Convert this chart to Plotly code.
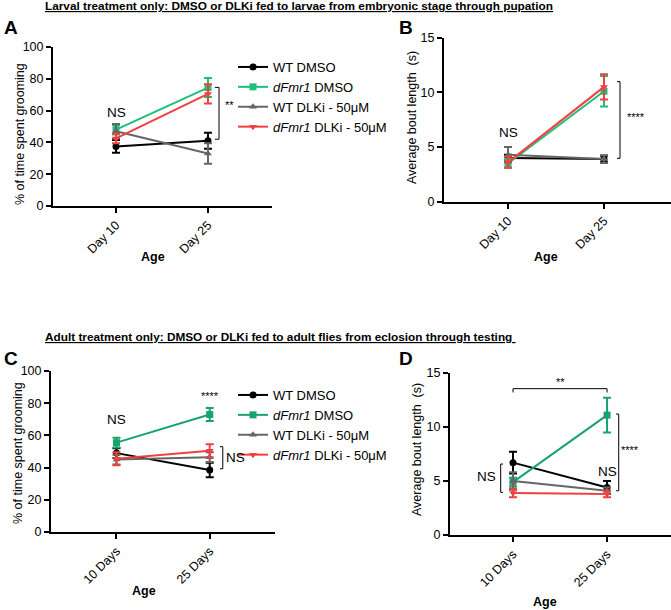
import plotly.graph_objects as go

# ---------------- data ----------------
series = ["WT DMSO", "<i>dFmr1</i> DMSO", "WT DLKi - 50μM", "<i>dFmr1</i> DLKi - 50μM"]
colors_top = ["#000000", "#1fbf7a", "#666666", "#f04040"]
colors_bot = ["#000000", "#16a46c", "#666666", "#f04040"]
symbols = ["circle", "square", "triangle-up", "triangle-down"]

ages_top = ["Day 10", "Day 25"]
ages_bot = ["10 Days", "25 Days"]

# Panel A: % time grooming (larval treatment)
A_mean = [[37.5, 41.0], [48.0, 74.5], [47.0, 33.0], [42.5, 70.5]]
A_err = [[4.0, 5.0], [3.0, 6.0], [4.5, 6.5], [3.0, 6.0]]
# Panel B: average bout length (larval treatment)
B_mean = [[4.0, 3.9], [3.5, 10.1], [4.3, 3.9], [3.6, 10.5]]
B_err = [[0.3, 0.3], [0.4, 1.4], [0.7, 0.35], [0.5, 1.15]]
# Panel C: % time grooming (adult treatment)
C_mean = [[49.0, 38.5], [55.5, 73.0], [45.0, 46.5], [45.5, 50.5]]
C_err = [[3.0, 4.5], [3.0, 4.0], [3.0, 3.0], [4.0, 4.0]]
# Panel D: average bout length (adult treatment)
D_mean = [[6.7, 4.4], [4.9, 11.1], [5.0, 4.1], [3.9, 3.8]]
D_err = [[1.0, 0.6], [0.4, 1.6], [0.8, 0.3], [0.4, 0.3]]

FONT = "Liberation Sans, Arial, sans-serif"
W, H = 671, 610

def px(x):
    return x / W

def py(y):
    return 1 - y / H

fig = go.Figure()

panels = [
    ("x", "y", A_mean, A_err, colors_top, "legend", True),
    ("x2", "y2", B_mean, B_err, colors_top, "legend", False),
    ("x3", "y3", C_mean, C_err, colors_bot, "legend2", True),
    ("x4", "y4", D_mean, D_err, colors_bot, "legend2", False),
]

for xa, ya, means, errs, cols, leg, showleg in panels:
    for i in range(4):
        fig.add_trace(go.Scatter(
            x=[0, 1], y=means[i], name=series[i],
            mode="lines+markers", xaxis=xa, yaxis=ya,
            line=dict(color=cols[i], width=2),
            marker=dict(color=cols[i], symbol=symbols[i], size=7),
            error_y=dict(type="data", array=errs[i], color=cols[i], thickness=2, width=4),
            showlegend=showleg, legend=leg,
        ))

axis_common = dict(showline=True, linecolor="black", linewidth=2, ticks="outside",
                   tickwidth=2, ticklen=5, tickcolor="black", showgrid=False, zeroline=False,
                   automargin=False,
                   tickfont=dict(family=FONT, size=12.5, color="black"))

def xaxis(dom, rng, labels, anchor):
    return dict(domain=dom, range=rng, tickvals=[0, 1], ticktext=labels, tickangle=-45,
                anchor=anchor, **axis_common)

def yaxis(dom, rng, dtick, anchor):
    return dict(domain=dom, range=rng, dtick=dtick, anchor=anchor, **axis_common)

fig.update_layout(
    width=W, height=H, margin=dict(l=0, r=0, t=0, b=0, autoexpand=False),
    paper_bgcolor="white", plot_bgcolor="white",
    font=dict(family=FONT, size=12, color="black"),
    xaxis=xaxis([px(53), px(272)], [-0.685, 1.696], ages_top, "y"),
    yaxis=yaxis([py(206), py(47)], [0, 100], 20, "x"),
    xaxis2=xaxis([px(444), 1.0], [-0.667, 1.698], ages_top, "y2"),
    yaxis2=yaxis([py(201.7), py(37.7)], [0, 15], 5, "x2"),
    xaxis3=xaxis([px(51), px(275)], [-0.702, 1.70], ages_bot, "y3"),
    yaxis3=yaxis([py(532), py(371)], [0, 100], 20, "x3"),
    xaxis4=xaxis([px(450), 1.0], [-0.670, 1.68], ages_bot, "y4"),
    yaxis4=yaxis([py(535), py(373)], [0, 15], 5, "x4"),
    legend=dict(x=px(233), y=py(52), xanchor="left", yanchor="top", bgcolor="rgba(0,0,0,0)",
                font=dict(family=FONT, size=13, color="black"), tracegroupgap=0),
    legend2=dict(x=px(233), y=py(380), xanchor="left", yanchor="top", bgcolor="rgba(0,0,0,0)",
                 font=dict(family=FONT, size=13, color="black"), tracegroupgap=0),
)

ann = []
def text(x, y, t, xref, yref, size=13, bold=False, xanchor="center", underline=False, angle=0):
    s = t
    if underline:
        s = "<u>" + s + "</u>"
    if bold:
        s = "<b>" + s + "</b>"
    ann.append(dict(x=x, y=y, text=s, xref=xref, yref=yref, showarrow=False,
                    xanchor=xanchor, yanchor="middle", textangle=angle,
                    font=dict(family=FONT, size=size, color="black")))

# titles
text(px(43), py(6), "Larval treatment only: DMSO or DLKi fed to larvae from embryonic stage through pupation",
     "paper", "paper", size=11.8, bold=True, xanchor="left", underline=True)
text(px(43), py(337), "Adult treatment only: DMSO or DLKi fed to adult flies from eclosion through testing ",
     "paper", "paper", size=11.8, bold=True, xanchor="left", underline=True)
# panel letters
for lx, ly, L in [(2, 27, "A"), (397, 27, "B"), (2, 358, "C"), (397, 358, "D")]:
    text(px(lx), py(ly), L, "paper", "paper", size=19, bold=True, xanchor="left")
# y-axis titles
text(px(20), py(134), "% of time spent grooming", "paper", "paper", size=12.5, angle=-90)
text(px(412), py(118), "Average bout length  (s)", "paper", "paper", size=12.5, angle=-90)
text(px(18), py(453), "% of time spent grooming", "paper", "paper", size=12.5, angle=-90)
text(px(417), py(450), "Average bout length  (s)", "paper", "paper", size=12.5, angle=-90)
# x-axis titles
text(0.40, py(257), "Age", "x", "paper", size=12.5, bold=True)
text(0.40, py(257), "Age", "x2", "paper", size=12.5, bold=True)
text(0.30, py(591), "Age", "x3", "paper", size=12.5, bold=True)
text(0.34, py(602), "Age", "x4", "paper", size=12.5, bold=True)

# significance labels
text(0, 58.5, "NS", "x", "y", size=13.5)
text(1.23, 63.5, "**", "x", "y", size=11)
text(0, 6.3, "NS", "x2", "y2", size=13.5)
text(1.33, 7.75, "****", "x2", "y2", size=11)
text(1.0, 84.5, "****", "x3", "y3", size=11)
text(0, 70, "NS", "x3", "y3", size=13.5)
text(1.28, 46, "NS", "x3", "y3", size=13.5)
text(0.5, 14.2, "**", "x4", "y4", size=11)
text(1.24, 7.87, "****", "x4", "y4", size=11)
text(-0.28, 5.37, "NS", "x4", "y4", size=13.5)
text(1.0, 5.85, "NS", "x4", "y4", size=13.5)
fig.update_layout(annotations=ann)

shapes = []
def bracket(xr, yr, pts):
    shapes.append(dict(type="path", xref=xr, yref=yr,
                       path="M " + " L ".join(f"{a},{b}" for a, b in pts),
                       line=dict(color="black", width=1)))

bracket("x", "y", [(1.075, 74.6), (1.12, 74.6), (1.12, 42), (1.075, 42)])
bracket("x2", "y2", [(1.135, 10.98), (1.167, 10.98), (1.167, 3.97), (1.135, 3.97)])
bracket("x3", "y3", [(1.11, 53), (1.14, 53), (1.14, 39.3), (1.11, 39.3)])
bracket("x4", "y4", [(0, 13.2), (0, 13.55), (1, 13.55), (1, 13.2)])
bracket("x4", "y4", [(1.096, 11.2), (1.124, 11.2), (1.124, 4.1), (1.096, 4.1)])
bracket("x4", "y4", [(-0.106, 6.57), (-0.131, 6.57), (-0.131, 3.95), (-0.106, 3.95)])
fig.update_layout(shapes=shapes)

fig.write_html("out.html", config={"displayModeBar": False},
               post_script="document.body.style.margin='0px';")
